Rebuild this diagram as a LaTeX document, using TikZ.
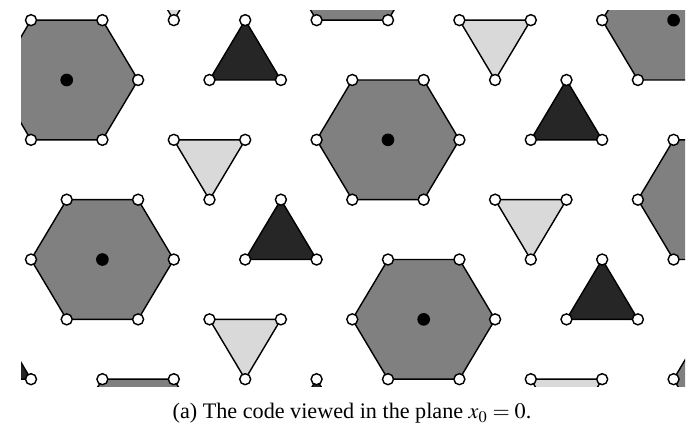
\documentclass[tikz,border=0pt]{standalone}
\usepackage{mathptmx}
\usepackage{fontspec}
\setmainfont{Liberation Serif}

\begin{document}
\begin{tikzpicture}[
    x=0.6pt, y=0.6pt,
    /tikz/font=\fontsize{13.3}{16}\selectfont,
    hexface/.style={draw, line width=0.85pt, fill=black!50},
    darkface/.style={draw, line width=0.85pt, fill=black!85},
    lightface/.style={draw, line width=0.85pt, fill=black!15},
    qubit/.style={draw, line width=0.85pt, fill=white},
    stab/.style={fill=black},
  ]
  \useasboundingbox (0,0) rectangle (691,426);

  % the lattice, cut to the window
  \begin{scope}
    \clip (21,39.5) rectangle (685,415.5);
    \begin{scope}[shift={(66.7,346)}, x={(42.84pt,0pt)}, y={(0pt,41.46pt)}]
      \foreach \i in {-1,...,2}
      \foreach \j in {-1,...,3} {
        \begin{scope}[shift={({4.5*(\i)+0.5*(\j)}, {-0.866*(\i)-2.598*(\j)})}]
          \draw[hexface] (0:1) -- (60:1) -- (120:1) -- (180:1) -- (240:1) -- (300:1) -- cycle;
          \draw[darkface] (2,0) -- (3,0) -- (2.5,0.866) -- cycle;
          \draw[lightface] (1,1.732) -- (2,1.732) -- (1.5,0.866) -- cycle;
          \fill[stab] (0,0) circle[radius=3.8pt];
          \foreach \k in {0,...,5}
            \draw[qubit] (60*\k:1) circle[radius=3.3pt];
          \foreach \p in {(2,0),(3,0),(2.5,0.866),(1,1.732),(2,1.732),(1.5,0.866)}
            \draw[qubit] \p circle[radius=3.3pt];
        \end{scope}
      }
    \end{scope}
  \end{scope}

  \node[anchor=base] (caption) at (352,7) {(a) The code viewed in the plane $x_0 = 0$.};
\end{tikzpicture}
\end{document}
